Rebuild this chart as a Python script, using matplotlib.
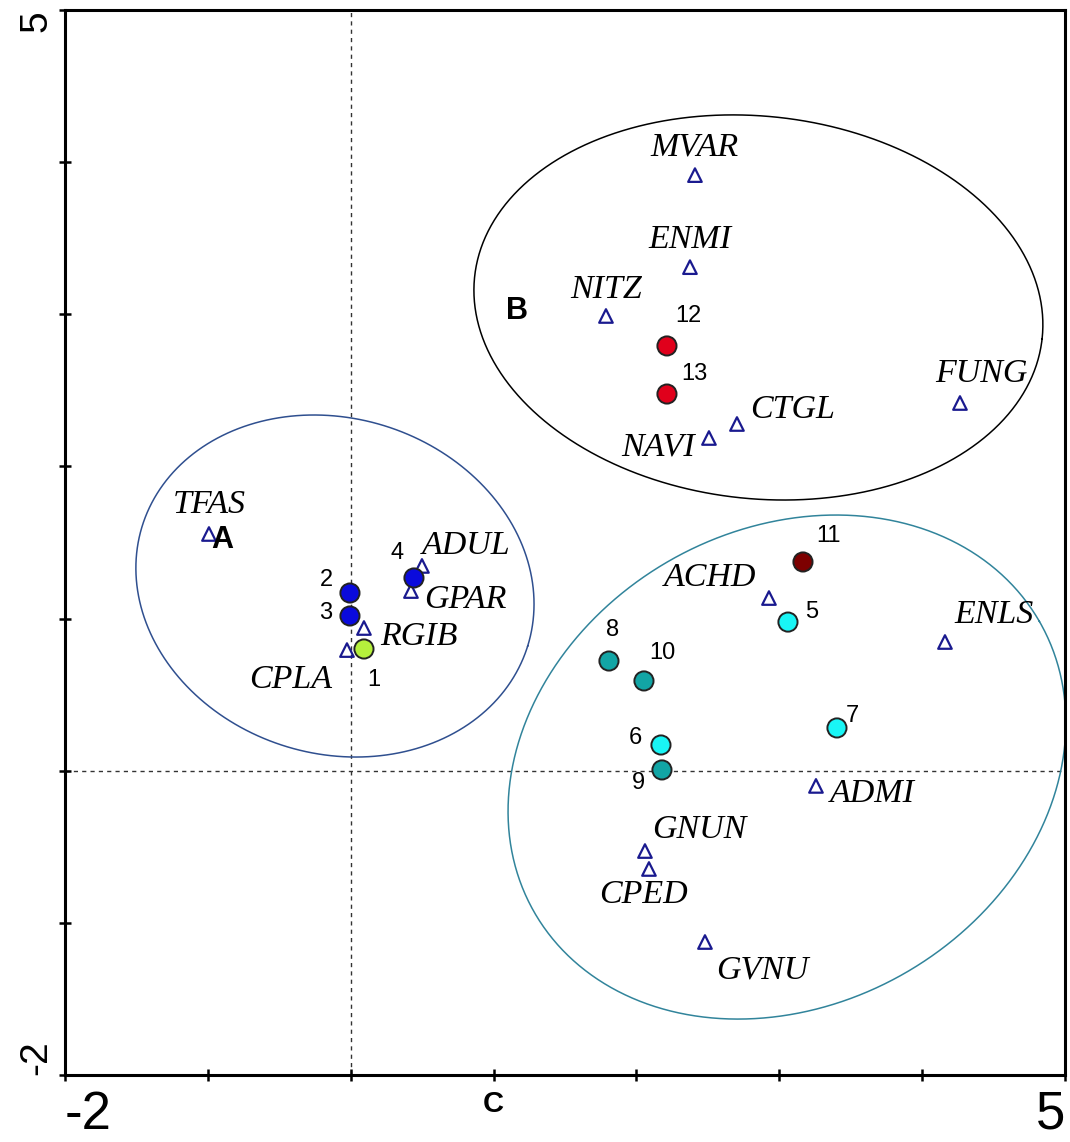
import numpy as np
import matplotlib
matplotlib.use("Agg")
from matplotlib import pyplot as plt

# species (open triangles)
species = ["MVAR", "ENMI", "NITZ", "CTGL", "NAVI", "FUNG", "TFAS", "ADUL", "GPAR",
           "RGIB", "CPLA", "ACHD", "ENLS", "ADMI", "GNUN", "CPED", "GVNU"]
sp_x = [2.41, 2.375, 1.787, 2.704, 2.508, 4.265, -0.992, 0.499, 0.422,
        0.093, -0.026, 2.928, 4.16, 3.257, 2.06, 2.088, 2.48]
sp_y = [3.915, 3.31, 2.989, 2.279, 2.187, 2.417, 1.556, 1.346, 1.181,
        0.938, 0.793, 1.135, 0.846, -0.1, -0.528, -0.646, -1.126]

# samples (filled circles)
samples = ["1", "2", "3", "4", "5", "6", "7", "8", "9", "10", "11", "12", "13"]
sa_x = [0.093, -0.005, -0.005, 0.443, 3.061, 2.172, 3.404, 1.808, 2.179, 2.053, 3.166, 2.214, 2.214]
sa_y = [0.80, 1.168, 1.017, 1.267, 0.977, 0.169, 0.281, 0.721, 0.005, 0.590, 1.372, 2.792, 2.476]
sa_col = ["#b5f03c", "#0a0adc", "#0a0adc", "#0a0adc", "#19f5f5", "#19f5f5", "#19f5f5",
          "#12a5a5", "#12a5a5", "#12a5a5", "#7d0000", "#e0001b", "#e0001b"]

# group ellipses: center, semi-axes (in x units), rotation in degrees
groups = ["A", "B", "C"]
el_cx = [-0.11, 2.854, 3.054]
el_cy = [1.214, 3.045, 0.024]
el_a = [1.413, 1.998, 2.04]
el_b = [1.174, 1.338, 1.662]
el_ang = [-17.3, -6.3, 30]
el_col = ["#2f4f8f", "black", "#31849b"]

# label offsets in pixels (layout)
sp_off = [(0, 28, "center"), (0, 27, "center"), (0, 26, "center"), (13, 14, "left"),
          (-14, -9, "right"), (21, 29, "center"), (0, 29, "center"), (0, 20, "left"),
          (13, -9, "left"), (16, -9, "left"), (-15, -30, "right"), (-13, 20, "right"),
          (9, 27, "left"), (14, -8, "left"), (7, 21, "left"), (-6, -26, "center"),
          (11, -28, "left")]
sa_off = [(10, -31), (-24, 13), (-24, 3), (-17, 25), (24, 10), (-26, 7), (15, 12),
          (4, 31), (-24, -13), (18, 28), (26, 26), (21, 30), (27, 20)]

fig = plt.figure(figsize=(10.7, 11.42), dpi=100)
ax = fig.add_axes([0.0607, 0.0587, 0.9346, 0.9325])
ax.set_xlim(-2, 5)
ax.set_ylim(-2, 5)

ax.axvline(0, color="#333333", lw=1, ls=(0, (3, 3)), zorder=1)
ax.axhline(0, color="#333333", lw=1, ls=(0, (3, 3)), zorder=1)

# y/x pixel ratio so ellipses keep their on-screen shape
pos = ax.get_position()
ratio = (pos.height * 11.42) / (pos.width * 10.7)
t = np.linspace(0, 2 * np.pi, 400)
for i in range(len(groups)):
    th = np.radians(el_ang[i])
    ex = el_cx[i] + el_a[i] * np.cos(t) * np.cos(th) - el_b[i] * np.sin(t) * np.sin(th)
    ey = el_cy[i] + (el_a[i] * np.cos(t) * np.sin(th) + el_b[i] * np.sin(t) * np.cos(th)) / ratio
    ax.plot(ex, ey, color=el_col[i], lw=1.1, zorder=2)

ax.scatter(sp_x, sp_y, marker="^", s=95, facecolors="none", edgecolors="#1a1a8f",
           linewidths=1.6, zorder=3)
ax.scatter(sa_x, sa_y, marker="o", s=190, c=sa_col, edgecolors="#222222",
           linewidths=1.4, zorder=4)

for i, name in enumerate(species):
    dx, dy, ha = sp_off[i]
    ax.annotate(name, (sp_x[i], sp_y[i]), xytext=(dx, dy), textcoords="offset pixels",
                ha=ha, va="center", fontsize=24.5, family="Liberation Serif",
                style="italic", zorder=5)

for i, name in enumerate(samples):
    dx, dy = sa_off[i]
    ax.annotate(name, (sa_x[i], sa_y[i]), xytext=(dx, dy), textcoords="offset pixels",
                ha="center", va="center", fontsize=17, family="Liberation Sans", zorder=5)

ax.text(-0.901, 1.516, "A", fontsize=22, fontweight="bold", family="Liberation Sans",
        ha="center", va="center", zorder=5)
ax.text(1.164, 3.022, "B", fontsize=22, fontweight="bold", family="Liberation Sans",
        ha="center", va="center", zorder=5)

# axes / ticks
for s in ax.spines.values():
    s.set_linewidth(2.2)
ax.set_xticks(np.arange(-2, 6))
ax.set_xticklabels(["-2", "", "", "C", "", "", "", "5"])
ax.set_yticks(np.arange(-2, 6))
ax.set_yticklabels(["-2", "", "", "", "", "", "", "5"])
ax.tick_params(direction="inout", length=9, width=1.8, colors="black")
ax.tick_params(axis="x", pad=6)
ax.tick_params(axis="y", pad=3)

xl = ax.get_xticklabels()
for lab in xl:
    lab.set_family("Liberation Sans")
    lab.set_fontsize(38)
xl[0].set_ha("left")
xl[-1].set_ha("right")
xl[3].set_fontsize(21)
xl[3].set_fontweight("bold")

yl = ax.get_yticklabels()
for lab in yl:
    lab.set_family("Liberation Sans")
    lab.set_fontsize(28)
    lab.set_rotation(90)
yl[0].set_va("bottom")
yl[-1].set_va("top")

fig.savefig("out.png", dpi=100)
